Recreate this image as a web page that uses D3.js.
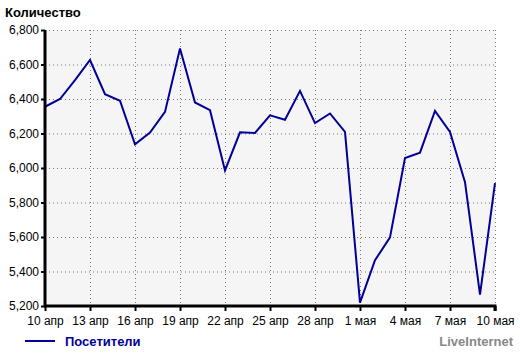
<!DOCTYPE html>
<html>
<head>
<meta charset="utf-8">
<script src="https://cdn.jsdelivr.net/npm/d3@7"></script>
<style>
  body { margin: 0; background: #fff; }
  text { font-family: "Liberation Sans", Arial, sans-serif; }
</style>
</head>
<body>
<svg width="520" height="353"></svg>
<script>
// Data (visitors per day, 10 apr - 10 may)
var days = ["10 апр","11 апр","12 апр","13 апр","14 апр","15 апр","16 апр","17 апр","18 апр","19 апр",
  "20 апр","21 апр","22 апр","23 апр","24 апр","25 апр","26 апр","27 апр","28 апр","29 апр",
  "30 апр","1 мая","2 мая","3 мая","4 мая","5 мая","6 мая","7 мая","8 мая","9 мая","10 мая"];
var visitors = [6355, 6400, 6510, 6626, 6428, 6390, 6137, 6205, 6325, 6693,
  6380, 6335, 5986, 6207, 6203, 6305, 6280, 6447, 6260, 6316,
  6209, 5220, 5465, 5598, 6058, 6089, 6331, 6209, 5918, 5266, 5912];
var yTicks = [5200, 5400, 5600, 5800, 6000, 6200, 6400, 6600, 6800];
var xTickEvery = 3;

var svg = d3.select("svg");
var margin = {top: 30, right: 25, bottom: 47, left: 45},
    width = 520 - margin.left - margin.right,
    height = 353 - margin.top - margin.bottom;
var g = svg.append("g").attr("transform", "translate(" + margin.left + "," + margin.top + ")");

var x = d3.scaleLinear().domain([0, days.length - 1]).range([0, width]);
var y = d3.scaleLinear().domain([5200, 6800]).range([height, 0]);

var xTickIdx = d3.range(0, days.length, xTickEvery);

// background
g.append("rect")
    .attr("width", width).attr("height", height)
    .attr("fill", "#f5f5f5");

// grid
g.selectAll(".hgrid").data(yTicks.slice(1)).enter().append("line")
    .attr("x1", 0).attr("x2", width)
    .attr("y1", function(d) { return y(d) + 0.5; })
    .attr("y2", function(d) { return y(d) + 0.5; })
    .attr("stroke", "#777").attr("stroke-dasharray", "1,3");
g.selectAll(".vgrid").data(xTickIdx.slice(1)).enter().append("line")
    .attr("y1", 0).attr("y2", height)
    .attr("x1", function(d) { return x(d) + 0.5; })
    .attr("x2", function(d) { return x(d) + 0.5; })
    .attr("stroke", "#777").attr("stroke-dasharray", "1,3");

// line
var line = d3.line()
    .x(function(d, i) { return x(i); })
    .y(function(d) { return y(d); });
g.append("path")
    .datum(visitors)
    .attr("fill", "none")
    .attr("stroke", "#000099")
    .attr("stroke-width", 2)
    .attr("d", line);

// axes
var yAxis = g.append("g")
    .call(d3.axisLeft(y).tickValues(yTicks).tickFormat(d3.format(",")).tickSize(4).tickPadding(2));
var xAxis = g.append("g")
    .attr("transform", "translate(0," + height + ")")
    .call(d3.axisBottom(x).tickValues(xTickIdx).tickFormat(function(d) { return days[d]; }).tickSize(5).tickPadding(5));

[yAxis, xAxis].forEach(function(a) {
  a.select(".domain").attr("stroke", "#000").attr("stroke-width", 3);
  a.selectAll(".tick line").attr("stroke", "#000").attr("stroke-width", 2);
  a.selectAll(".tick text").attr("fill", "#000").style("font-size", "12px")
      .style("font-family", "'Liberation Sans', Arial, sans-serif");
});
yAxis.select(".domain").attr("d", "M0," + (height + 1) + "V0");
xAxis.select(".domain").attr("d", "M-1,0H" + width + "V5");

// title
svg.append("text")
    .attr("x", 5).attr("y", 17)
    .style("font-size", "13px").style("font-weight", "bold")
    .text("Количество");

// legend
svg.append("line")
    .attr("x1", 25).attr("x2", 55).attr("y1", 341).attr("y2", 341)
    .attr("stroke", "#000099").attr("stroke-width", 2);
svg.append("text")
    .attr("x", 65).attr("y", 346)
    .attr("fill", "#000099")
    .style("font-size", "13px").style("font-weight", "bold")
    .text("Посетители");

svg.append("text")
    .attr("x", 513).attr("y", 346)
    .attr("text-anchor", "end")
    .attr("fill", "#888")
    .style("font-size", "13px").style("font-weight", "bold")
    .text("LiveInternet");
</script>
</body>
</html>
